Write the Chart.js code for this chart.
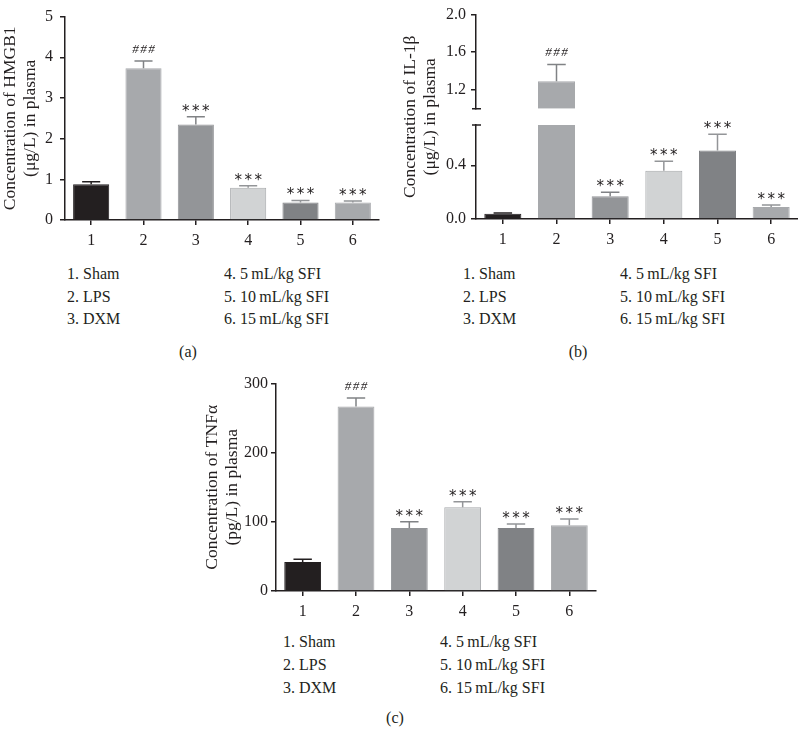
<!DOCTYPE html>
<html>
<head>
<meta charset="utf-8">
<script src="https://cdn.jsdelivr.net/npm/chart.js@4.4.0/dist/chart.umd.min.js"></script>
<style>
body { margin: 0; background: #fff; }
#page { position: relative; width: 798px; height: 743px; font-family: "Liberation Serif", "Times New Roman", serif; color: #231f20; overflow: hidden; }
#page canvas { position: absolute; }
.txt { position: absolute; font-size: 16px; line-height: 20px; white-space: nowrap; }
</style>
</head>
<body>
<div id="page">
    <canvas id="chartA" width="390" height="252" style="left:0px;top:0px"></canvas>
    <canvas id="chartB" width="408" height="251" style="left:390px;top:0px"></canvas>
    <canvas id="chartC" width="410" height="252" style="left:190px;top:371px"></canvas>
</div>
<script>
// ----------------- data -----------------
const groupTicks = ['1', '2', '3', '4', '5', '6'];
const groupNames = ['1. Sham', '2. LPS', '3. DXM', '4. 5\u2009mL/kg SFI', '5. 10\u2009mL/kg SFI', '6. 15\u2009mL/kg SFI'];
const sigMarks = ['', '###', '***', '***', '***', '***'];

// (a) HMGB1, ug/L
const hmgb1Mean = [0.88, 3.73, 2.35, 0.79, 0.43, 0.43];
const hmgb1Sem = [0.06, 0.18, 0.19, 0.05, 0.05, 0.04];
const hmgb1Ticks = [0, 1, 2, 3, 4, 5];

// (b) IL-1b, ug/L (broken axis 0.7 -> 1.0)
const il1bMean = [0.04, 1.29, 0.17, 0.36, 0.51, 0.09];
const il1bSem = [0.005, 0.18, 0.03, 0.07, 0.12, 0.015];
const il1bLowTicks = [0, 0.4];
const il1bHighTicks = [1.2, 1.6, 2.0];
const il1bBreak = [0.7, 1.0];

// (c) TNFa, pg/L
const tnfMean = [42, 267, 91, 121, 91, 95];
const tnfSem = [4, 12, 9, 8, 6, 9];
const tnfTicks = [0, 100, 200, 300];

// ----------------- styles -----------------
const ink = '#231f20';
const barFill = ['#231f20', '#a7a9ac', '#939598', '#d1d3d4', '#808285', '#a7a9ac'];
const barEdge = ['#231f20', '#a7a9ac', '#939598', '#a7a9ac', '#808285', '#a7a9ac'];
const whiskerColor = ['#231f20', '#808285', '#808285', '#939598', '#939598', '#939598'];

Chart.defaults.font.family = '"Liberation Serif", "Times New Roman", serif';
Chart.defaults.font.size = 16;
Chart.defaults.color = ink;

// draw the significance marks above the whisker
function drawMark(ctx, text, x, bottom) {
    if (!text) return;
    const isHash = text[0] === '#';
    ctx.font = isHash ? 'italic 13px "Liberation Serif"' : '15px "DejaVu Sans"';
    const step = isHash ? 8 : 10;
    const gap = isHash ? 8 : 5;
    const chars = text.split('');
    const m = ctx.measureText(chars[0]);
    const base = bottom - gap - m.actualBoundingBoxDescent;
    const start = x - step * (chars.length - 1) / 2;
    ctx.fillStyle = ink;
    ctx.textAlign = 'center';
    ctx.textBaseline = 'alphabetic';
    chars.forEach((c, k) => ctx.fillText(c, start + k * step, base));
}

// upper error whiskers + marks
function errorBars(means, sems, marks, pickScale) {
    return {
        id: 'errorBars',
        afterDatasetsDraw(chart) {
            const ctx = chart.ctx;
            const meta = chart.getDatasetMeta(0);
            means.forEach((v, i) => {
                const bar = meta.data[i];
                const scale = chart.scales[pickScale(v)];
                const yTop = scale.getPixelForValue(v);
                const yErr = scale.getPixelForValue(v + sems[i]);
                const half = bar.width / 4;
                ctx.save();
                ctx.strokeStyle = whiskerColor[i];
                ctx.lineWidth = 1.5;
                ctx.beginPath();
                ctx.moveTo(bar.x, yTop);
                ctx.lineTo(bar.x, yErr);
                ctx.moveTo(bar.x - half, yErr);
                ctx.lineTo(bar.x + half, yErr);
                ctx.stroke();
                drawMark(ctx, marks[i], bar.x, yErr);
                ctx.restore();
            });
        }
    };
}

// small caps at the ends of the broken axis
const breakCaps = {
    id: 'breakCaps',
    afterDraw(chart) {
        const ctx = chart.ctx;
        const low = chart.scales.yLow;
        const high = chart.scales.yHigh;
        ctx.save();
        ctx.strokeStyle = ink;
        ctx.lineWidth = 1.5;
        ctx.beginPath();
        [low.getPixelForValue(low.max), high.getPixelForValue(high.min)].forEach(py => {
            ctx.moveTo(low.right - 4, py);
            ctx.lineTo(low.right + 5, py);
        });
        ctx.stroke();
        ctx.restore();
    }
};

function xAxis() {
    return {
        afterFit: s => { s.height = 32; },
        border: { color: ink, width: 1.5 },
        grid: { drawOnChartArea: false, offset: false, tickLength: 5, color: ink, lineWidth: 1.5 },
        ticks: { padding: 6, color: ink, font: { size: 16 } }
    };
}

function yAxis(width, tickList, pad, fmt) {
    return {
        min: tickList[0],
        max: tickList[tickList.length - 1],
        afterBuildTicks: s => { s.ticks = tickList.map(v => ({ value: v })); },
        afterFit: s => { s.width = width; },
        border: { color: ink, width: 1.5 },
        grid: { drawOnChartArea: false, tickLength: 5, color: ink, lineWidth: 1.5 },
        ticks: { padding: pad, color: ink, font: { size: 16 }, callback: fmt }
    };
}

function yTitle(lines, pad) {
    return {
        display: true,
        text: lines,
        color: ink,
        font: { size: 17.5, lineHeight: 1.15 },
        padding: { top: pad, bottom: 0 }
    };
}

function barDataset(values, extra) {
    return Object.assign({
        data: values,
        backgroundColor: barFill,
        borderColor: barEdge,
        borderWidth: 1,
        barPercentage: 0.69,
        categoryPercentage: 1
    }, extra || {});
}

const baseOptions = {
    responsive: false,
    animation: false,
    plugins: { legend: { display: false }, tooltip: { enabled: false } }
};

// ----------------- (a) HMGB1 -----------------
const yA = yAxis(65, hmgb1Ticks, 7, v => v);
yA.title = yTitle(['Concentration of HMGB1', '(\u03bcg/L) in plasma'], 0);
new Chart(document.getElementById('chartA'), {
    type: 'bar',
    data: { labels: groupTicks, datasets: [barDataset(hmgb1Mean)] },
    options: Object.assign({}, baseOptions, {
        layout: { padding: { top: 12, right: 11, left: 0, bottom: 0 } },
        scales: { x: xAxis(), y: yA }
    }),
    plugins: [errorBars(hmgb1Mean, hmgb1Sem, sigMarks, () => 'y')]
});

// ----------------- (b) IL-1beta, broken axis -----------------
const fmtB = v => v.toFixed(1);
const yLow = yAxis(86, il1bLowTicks, 5, fmtB);
yLow.max = il1bBreak[0];
Object.assign(yLow, { position: 'left', stack: 'il1b', stackWeight: 98 });
const yHigh = yAxis(86, il1bHighTicks, 5, fmtB);
yHigh.min = il1bBreak[1];
Object.assign(yHigh, { position: 'left', stack: 'il1b', stackWeight: 98 });
const yGap = {
    type: 'linear', position: 'left', stack: 'il1b', stackWeight: 17,
    afterFit: s => { s.width = 86; },
    grid: { display: false }, border: { display: false }, ticks: { display: false },
    title: yTitle(['Concentration of IL-1\u03b2', '(\u03bcg/L) in plasma'], 10)
};

new Chart(document.getElementById('chartB'), {
    type: 'bar',
    data: {
        labels: groupTicks,
        datasets: [
            barDataset(il1bMean.map(v => Math.min(v, il1bBreak[0])), { yAxisID: 'yLow', grouped: false }),
            barDataset(il1bMean.map(v => v > il1bBreak[1] ? [il1bBreak[1], v] : null), { yAxisID: 'yHigh', grouped: false })
        ]
    },
    options: Object.assign({}, baseOptions, {
        layout: { padding: { top: 6, right: 0, left: 0, bottom: 0 } },
        scales: { x: xAxis(), yLow: yLow, yGap: yGap, yHigh: yHigh }
    }),
    plugins: [errorBars(il1bMean, il1bSem, sigMarks, v => v > il1bBreak[0] ? 'yHigh' : 'yLow'), breakCaps]
});

// ----------------- (c) TNF-alpha -----------------
const yC = yAxis(86, tnfTicks, 3, v => v);
yC.title = yTitle(['Concentration of TNF\u03b1', '(pg/L) in plasma'], 12);
new Chart(document.getElementById('chartC'), {
    type: 'bar',
    data: { labels: groupTicks, datasets: [barDataset(tnfMean)] },
    options: Object.assign({}, baseOptions, {
        layout: { padding: { top: 12, right: 4, left: 0, bottom: 0 } },
        scales: { x: xAxis(), y: yC }
    }),
    plugins: [errorBars(tnfMean, tnfSem, sigMarks, () => 'y')]
});

// ----------------- group keys and panel captions -----------------
const keyPos = [
    { left: 67, right: 224, top: 264, gap: 22.5, capX: 188, capTop: 342, cap: '(a)' },
    { left: 463, right: 620, top: 264, gap: 22.5, capX: 578, capTop: 342, cap: '(b)' },
    { left: 283, right: 440, top: 632, gap: 23, capX: 395, capTop: 708, cap: '(c)' }
];
const page = document.getElementById('page');
function addText(text, left, top, center) {
    const d = document.createElement('div');
    d.className = 'txt';
    d.textContent = text;
    d.style.left = left + 'px';
    d.style.top = top + 'px';
    if (center) d.style.transform = 'translateX(-50%)';
    page.appendChild(d);
}
keyPos.forEach(p => {
    groupNames.forEach((name, i) => {
        const col = i < 3 ? p.left : p.right;
        addText(name, col, p.top + (i % 3) * p.gap);
    });
    addText(p.cap, p.capX, p.capTop, true);
});
</script>
</body>
</html>
